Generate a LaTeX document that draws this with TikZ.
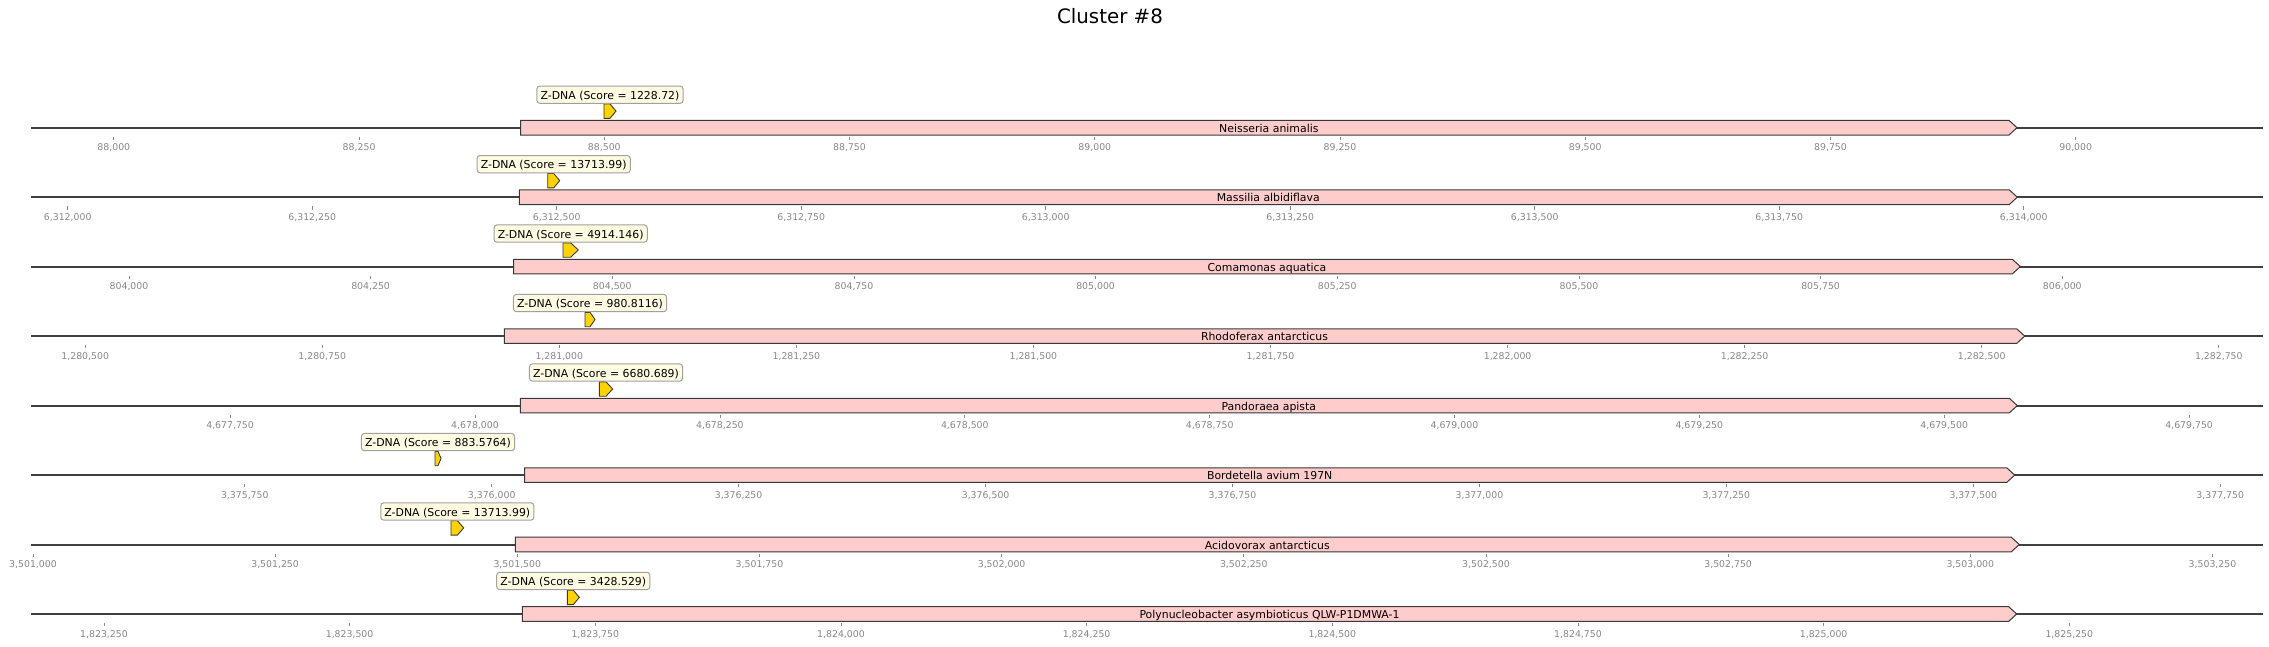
\documentclass[tikz,border=0pt]{standalone}
\usepackage{fontspec}
\setmainfont{DejaVu Sans}
\definecolor{lineC}{HTML}{404040}
\definecolor{edgeC}{HTML}{383838}
\definecolor{geneC}{HTML}{FFCCCC}
\definecolor{zC}{HTML}{FFD200}
\definecolor{lblF}{HTML}{FFFBE3}
\definecolor{lblE}{HTML}{A0A0A0}
\definecolor{tickC}{HTML}{888888}
\tikzset{
  seqline/.style={draw=lineC, line width=2pt},
  genebox/.style={draw=edgeC, fill=geneC, line width=1pt, line join=miter},
  zmark/.style={draw=edgeC, fill=zC, line width=0.9pt},
  zlabel/.style={draw=lblE, fill=lblF, rounded corners=3pt, line width=1pt,
    inner xsep=3.7pt, inner ysep=3.8pt, text height=9.5pt, text depth=0.2pt,
    font=\fontsize{10.9}{12}\selectfont, anchor=base},
  ticklab/.style={text=tickC, font=\fontsize{9.35}{11}\selectfont, anchor=base, inner sep=0pt},
  tickmark/.style={draw=tickC, line width=0.7pt},
  genelab/.style={font=\fontsize{10.9}{12}\selectfont, anchor=base, inner sep=0pt},
  titlelab/.style={font=\fontsize{19.85}{22}\selectfont, anchor=base, inner sep=0pt}
}
% #1 id, #2 line y, #3 box start, #4 tip, #5 gene, #6 marker x0, #7 marker width, #8 score
\newcommand{\generow}[8]{%
  \coordinate (ls#1) at (31,#2);
  \coordinate (le#1) at (2262.7,#2);
  \draw[seqline] (ls#1) -- (le#1);
  \draw[genebox] (#3,#2-7.3) -- ({#4-8},#2-7.3) -- (#4,#2) -- ({#4-8},#2+7.3) -- (#3,#2+7.3) -- cycle;
  \node[genelab] (g#1) at ({(#3+#4)/2},#2+4.6) {#5};
  \draw[zmark] (#6,#2-23.8) -- ({#6+#7/2},#2-23.8) -- ({#6+#7},#2-16.6) -- ({#6+#7/2},#2-9.4) -- (#6,#2-9.4) -- cycle;
  \node[zlabel] (z#1) at ({#6+#7/2},#2-28.4) {Z-DNA (Score = #8)};
}
\newcommand{\tickrow}[3]{%
  \foreach \x/\l [count=\i] in {#3} {
    \draw[tickmark] (\x,#2+9) -- (\x,#2+12.3);
    \node[ticklab] (t#1-\i) at (\x,#2+23.1) {\l};
  }
}
\begin{document}
\begin{tikzpicture}[x=1pt,y=-1pt]
\useasboundingbox[fill=white] (0,0) rectangle (2269,646);
\node[titlelab] (title) at (1110,23) {Cluster \#8};

\generow{1}{127.7}{520.7}{2017}{Neisseria animalis}{604}{12}{1228.72}
\tickrow{1}{127.7}{113.8/{88,000},359.1/{88,250},604.3/{88,500},849.5/{88,750},1094.8/{89,000},1340.0/{89,250},1585.2/{89,500},1830.5/{89,750},2075.7/{90,000}}

\generow{2}{197.2}{519.3}{2017.3}{Massilia albidiflava}{547.7}{12}{13713.99}
\tickrow{2}{197.2}{67.7/{6,312,000},312.2/{6,312,250},556.7/{6,312,500},801.2/{6,312,750},1045.7/{6,313,000},1290.2/{6,313,250},1534.7/{6,313,500},1779.2/{6,313,750},2023.7/{6,314,000}}

\generow{3}{266.6}{513.7}{2020.3}{Comamonas aquatica}{563}{15.3}{4914.146}
\tickrow{3}{266.6}{129.0/{804,000},370.6/{804,250},612.3/{804,500},854.0/{804,750},1095.6/{805,000},1337.3/{805,250},1579.0/{805,500},1820.6/{805,750},2062.3/{806,000}}

\generow{4}{336.1}{504.3}{2024.7}{Rhodoferax antarcticus}{585}{10}{980.8116}
\tickrow{4}{336.1}{85.2/{1,280,500},322.2/{1,280,750},559.3/{1,281,000},796.4/{1,281,250},1033.4/{1,281,500},1270.5/{1,281,750},1507.6/{1,282,000},1744.6/{1,282,250},1981.7/{1,282,500},2218.8/{1,282,750}}

\generow{5}{405.6}{520.3}{2017.3}{Pandoraea apista}{599.3}{13.4}{6680.689}
\tickrow{5}{405.6}{230.1/{4,677,750},475.0/{4,678,000},719.9/{4,678,250},964.8/{4,678,500},1209.7/{4,678,750},1454.4/{4,679,000},1699.3/{4,679,250},1944.2/{4,679,500},2189.1/{4,679,750}}

\generow{6}{475.1}{524.7}{2014.7}{Bordetella avium 197N}{435}{6}{883.5764}
\tickrow{6}{475.1}{244.8/{3,375,750},491.7/{3,376,000},738.6/{3,376,250},985.6/{3,376,500},1232.5/{3,376,750},1479.4/{3,377,000},1726.3/{3,377,250},1973.3/{3,377,500},2220.2/{3,377,750}}

\generow{7}{544.5}{515.3}{2019.3}{Acidovorax antarcticus}{451}{12.7}{13713.99}
\tickrow{7}{544.5}{33.0/{3,501,000},275.1/{3,501,250},517.3/{3,501,500},759.5/{3,501,750},1001.6/{3,502,000},1243.8/{3,502,250},1486.0/{3,502,500},1728.1/{3,502,750},1970.3/{3,503,000},2212.5/{3,503,250}}

\generow{8}{614.0}{522.3}{2016.7}{Polynucleobacter asymbioticus QLW-P1DMWA-1}{567.3}{12}{3428.529}
\tickrow{8}{614.0}{104.0/{1,823,250},349.6/{1,823,500},595.3/{1,823,750},841.0/{1,824,000},1086.6/{1,824,250},1332.3/{1,824,500},1578.0/{1,824,750},1823.6/{1,825,000},2069.3/{1,825,250}}
\end{tikzpicture}
\end{document}
